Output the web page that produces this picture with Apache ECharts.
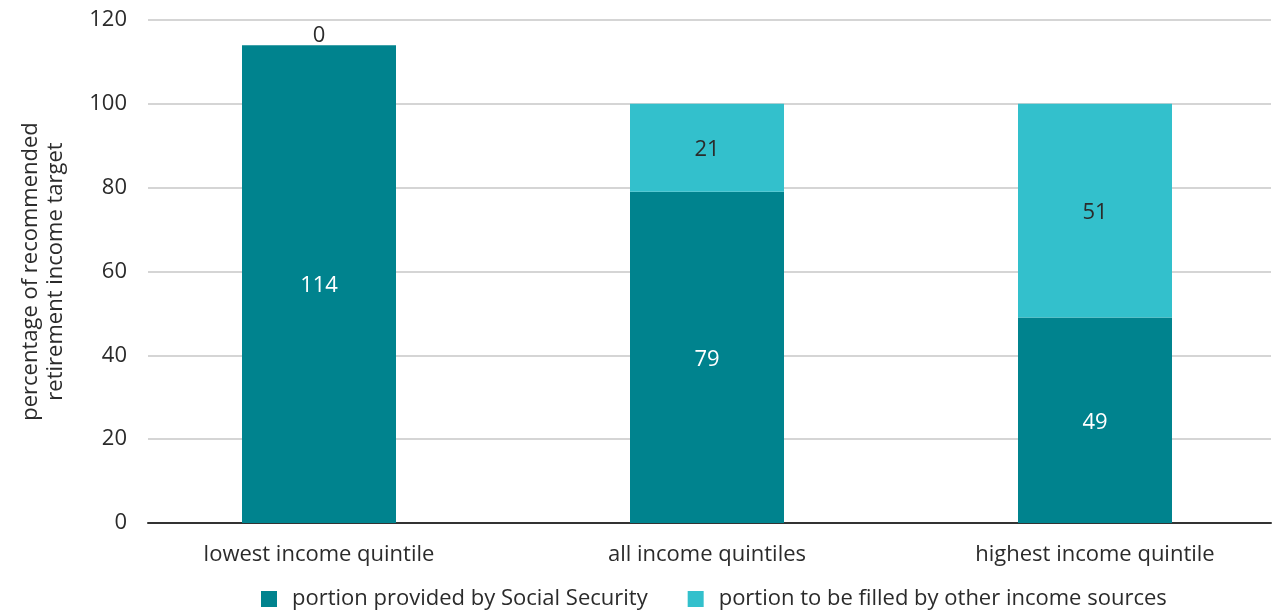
<!DOCTYPE html>
<html>
<head>
<meta charset="utf-8">
<script src="https://cdn.jsdelivr.net/npm/echarts@6/dist/echarts.min.js"></script>
<style>
	html, body { margin: 0; padding: 0; background: #fff; }
	#chart { width: 1276px; height: 610px; }
</style>
</head>
<body>
<div id="chart"></div>
<script>
var categories = ['lowest income quintile', 'all income quintiles', 'highest income quintile'];
var socialSecurity = [114, 79, 49]; // portion provided by Social Security
var otherSources = [0, 21, 51]; // portion to be filled by other income sources
var seriesNames = ['portion provided by Social Security', 'portion to be filled by other income sources'];
var yTicks = { min: 0, max: 120, interval: 20 };

var fontFamily = '"Open Sans", Lato, sans-serif';
var fontSize = 22;
var textColor = '#2b2b2b';
var darkTeal = '#00838e';
var lightTeal = '#33c0cc';

var myChart = echarts.init(document.getElementById('chart'));

// the light series: a zero value sits on top of the bar
var otherData = [];
for (var i = 0; i < otherSources.length; i++) {
	if (otherSources[i] === 0) {
		otherData.push({
			value: otherSources[i],
			label: { position: 'top', distance: 0, offset: [0, 2] }
		});
	} else {
		otherData.push(otherSources[i]);
	}
}

var option = {
	animation: false,
	textStyle: { fontFamily: fontFamily },
	legend: {
		top: 583,
		left: 256,
		icon: 'rect',
		itemWidth: 16,
		itemHeight: 16,
		itemGap: 40,
		textStyle: {
			fontSize: fontSize,
			color: textColor,
			fontFamily: fontFamily,
			padding: [0, 0, 0, 10]
		},
		data: seriesNames
	},
	grid: [
		// bars
		{ left: 125, width: 1164, top: 20, bottom: 87, outerBoundsMode: 'none' },
		// axes, grid lines
		{ left: 148, right: 5, top: 20, bottom: 87, outerBoundsMode: 'none' }
	],
	xAxis: [{
		type: 'category',
		gridIndex: 0,
		data: categories,
		axisLine: { show: false },
		axisTick: { show: false },
		axisLabel: {
			fontSize: fontSize,
			color: textColor,
			margin: 21,
			fontFamily: fontFamily
		}
	}, {
		type: 'value',
		gridIndex: 1,
		min: 0,
		max: 1,
		axisLine: { show: true, lineStyle: { color: '#333', width: 2 } },
		axisTick: { show: false },
		axisLabel: { show: false },
		splitLine: { show: false }
	}],
	yAxis: [{
		type: 'value',
		gridIndex: 0,
		min: yTicks.min,
		max: yTicks.max,
		interval: yTicks.interval,
		axisLine: { show: false },
		axisTick: { show: false },
		axisLabel: { show: false },
		splitLine: { show: false }
	}, {
		type: 'value',
		gridIndex: 1,
		min: yTicks.min,
		max: yTicks.max,
		interval: yTicks.interval,
		name: 'percentage of recommended\nretirement income target',
		nameLocation: 'middle',
		nameGap: 80,
		nameTextStyle: {
			fontSize: fontSize,
			color: textColor,
			lineHeight: 25,
			fontFamily: fontFamily
		},
		axisLine: { show: false },
		axisTick: { show: false },
		axisLabel: {
			fontSize: fontSize,
			color: textColor,
			margin: 21,
			fontFamily: fontFamily
		},
		splitLine: { lineStyle: { color: '#d5d5d5', width: 2 } }
	}],
	series: [{
		name: seriesNames[0],
		type: 'bar',
		stack: 'total',
		xAxisIndex: 0,
		yAxisIndex: 0,
		barWidth: 154,
		itemStyle: { color: darkTeal },
		label: {
			show: true,
			position: 'inside',
			offset: [0, 2],
			color: '#ffffff',
			fontSize: fontSize,
			fontFamily: fontFamily
		},
		data: socialSecurity
	}, {
		name: seriesNames[1],
		type: 'bar',
		stack: 'total',
		xAxisIndex: 0,
		yAxisIndex: 0,
		barWidth: 154,
		itemStyle: { color: lightTeal },
		label: {
			show: true,
			position: 'inside',
			offset: [0, 2],
			color: textColor,
			fontSize: fontSize,
			fontFamily: fontFamily
		},
		data: otherData
	}]
};

myChart.setOption(option);
</script>
</body>
</html>
